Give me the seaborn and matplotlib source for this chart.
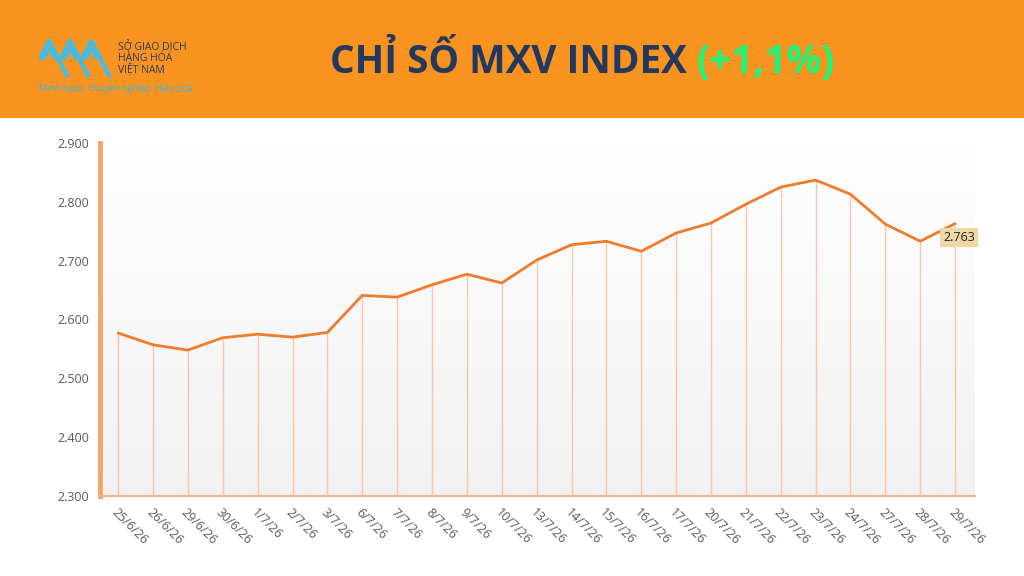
import numpy as np
import pandas as pd
import matplotlib
matplotlib.use("Agg")
import matplotlib.pyplot as plt
import seaborn as sns
from matplotlib.colors import LinearSegmentedColormap
from matplotlib.patches import Rectangle

dates = ["25/6/26", "26/6/26", "29/6/26", "30/6/26", "1/7/26", "2/7/26", "3/7/26",
         "6/7/26", "7/7/26", "8/7/26", "9/7/26", "10/7/26", "13/7/26", "14/7/26",
         "15/7/26", "16/7/26", "17/7/26", "20/7/26", "21/7/26", "22/7/26", "23/7/26",
         "24/7/26", "27/7/26", "28/7/26", "29/7/26"]
mxv = [2577, 2557, 2548, 2569, 2575, 2570, 2578, 2641, 2638, 2659, 2677, 2662,
       2701, 2727, 2733, 2716, 2747, 2764, 2796, 2825, 2837, 2813, 2762, 2733, 2763]
yticks = [2300, 2400, 2500, 2600, 2700, 2800, 2900]

df = pd.DataFrame({"pos": range(len(dates)), "date": dates, "value": mxv})

sns.set_style("white")
plt.rcParams["font.family"] = ["Open Sans", "DejaVu Sans"]

fig = plt.figure(figsize=(10.24, 5.76), dpi=100)
fig.patch.set_facecolor("white")

# orange header band
fig.patches.append(Rectangle((0, 1 - 118 / 576), 1, 118 / 576, transform=fig.transFigure,
                             facecolor="#F7931E", edgecolor="none", zorder=-5))

ax = fig.add_axes([100 / 1024, 1 - 496 / 576, 875 / 1024, 353 / 576])
xl = (-0.52, len(dates) - 1 + 0.57)

# soft grey gradient behind the plot (white on top, grey at the bottom)
grad = LinearSegmentedColormap.from_list("g", ["#ffffff", "#f1f1f1"])
ax.imshow(np.linspace(0, 1, 256).reshape(-1, 1), cmap=grad, aspect="auto",
          extent=[xl[0], xl[1], 2300, 2900], origin="upper", zorder=0)

ax.vlines(df["pos"], 2300, df["value"], color="#F9C7A3", lw=1.0, zorder=1)
sns.lineplot(data=df, x="pos", y="value", color="#F07B2C", lw=2.0, ax=ax, zorder=3)

ax.set_xlim(*xl)
ax.set_ylim(2300, 2900)
ax.set_yticks(yticks)
ax.set_yticklabels([f"{v:,}".replace(",", ".") for v in yticks], color="#595959", fontsize=9)
ax.set_xticks(df["pos"])
ax.set_xticklabels(dates, rotation=-45, ha="left", va="top", rotation_mode="anchor",
                   color="#595959", fontsize=9)
ax.tick_params(axis="both", length=0)
ax.tick_params(axis="x", pad=7)
ax.tick_params(axis="y", pad=8)
ax.set_xlabel("")
ax.set_ylabel("")

for s in ["top", "right"]:
    ax.spines[s].set_visible(False)
ax.spines["left"].set_color("#F4A46C")
ax.spines["left"].set_linewidth(3.5)
ax.spines["bottom"].set_color("#F6B68A")
ax.spines["bottom"].set_linewidth(1.5)
ax.set_facecolor("none")

last = df.iloc[-1]
ax.annotate(f"{last['value']:,}".replace(",", "."), (last["pos"], last["value"]),
            xytext=(3, -10), textcoords="offset points", ha="center", va="center",
            fontsize=9, color="#222222",
            bbox=dict(boxstyle="square,pad=0.25", fc="#EED9A4", ec="none"), zorder=5)

# title in two colours
t1 = fig.text(330 / 1024, 1 - 58 / 576, "CHỈ SỐ MXV INDEX ", fontsize=27.8, fontweight="bold",
              color="#22385F", ha="left", va="center_baseline")
fig.canvas.draw()
bb = t1.get_window_extent()
fig.text(bb.x1 / fig.bbox.width, 1 - 58 / 576, "(+1,1%)", fontsize=27.8, fontweight="bold",
         color="#1EF57A", ha="left", va="center_baseline")

# logo
lax = fig.add_axes([38 / 1024, 1 - 80 / 576, 76 / 1024, 42 / 576], zorder=5)
lax.set_xlim(0, 13)
lax.set_ylim(0, 6)
lax.axis("off")
for k in range(3):
    off = k * 3.6
    lax.plot([0.3 + off, 1.9 + off, 3.5 + off, 5.1 + off], [3, 5.6, 3, 0.4],
             color="#3DBDEB", lw=3, solid_capstyle="butt")
    lax.plot([1.0 + off, 1.9 + off, 2.8 + off], [3, 4.4, 3], color="#3DBDEB", lw=2)
fig.text(118 / 1024, 1 - 58 / 576, "SỞ GIAO DỊCH\nHÀNG HÓA\nVIỆT NAM", fontsize=7.5,
         color="#2B3B66", ha="left", va="center", linespacing=1.0)
fig.text(39 / 1024, 1 - 88 / 576, "Minh bạch. Chuyên nghiệp. Hiệu quả", fontsize=6.5,
         color="#2FB7E6", ha="left", va="center")

fig.savefig("out.png", dpi=100)
